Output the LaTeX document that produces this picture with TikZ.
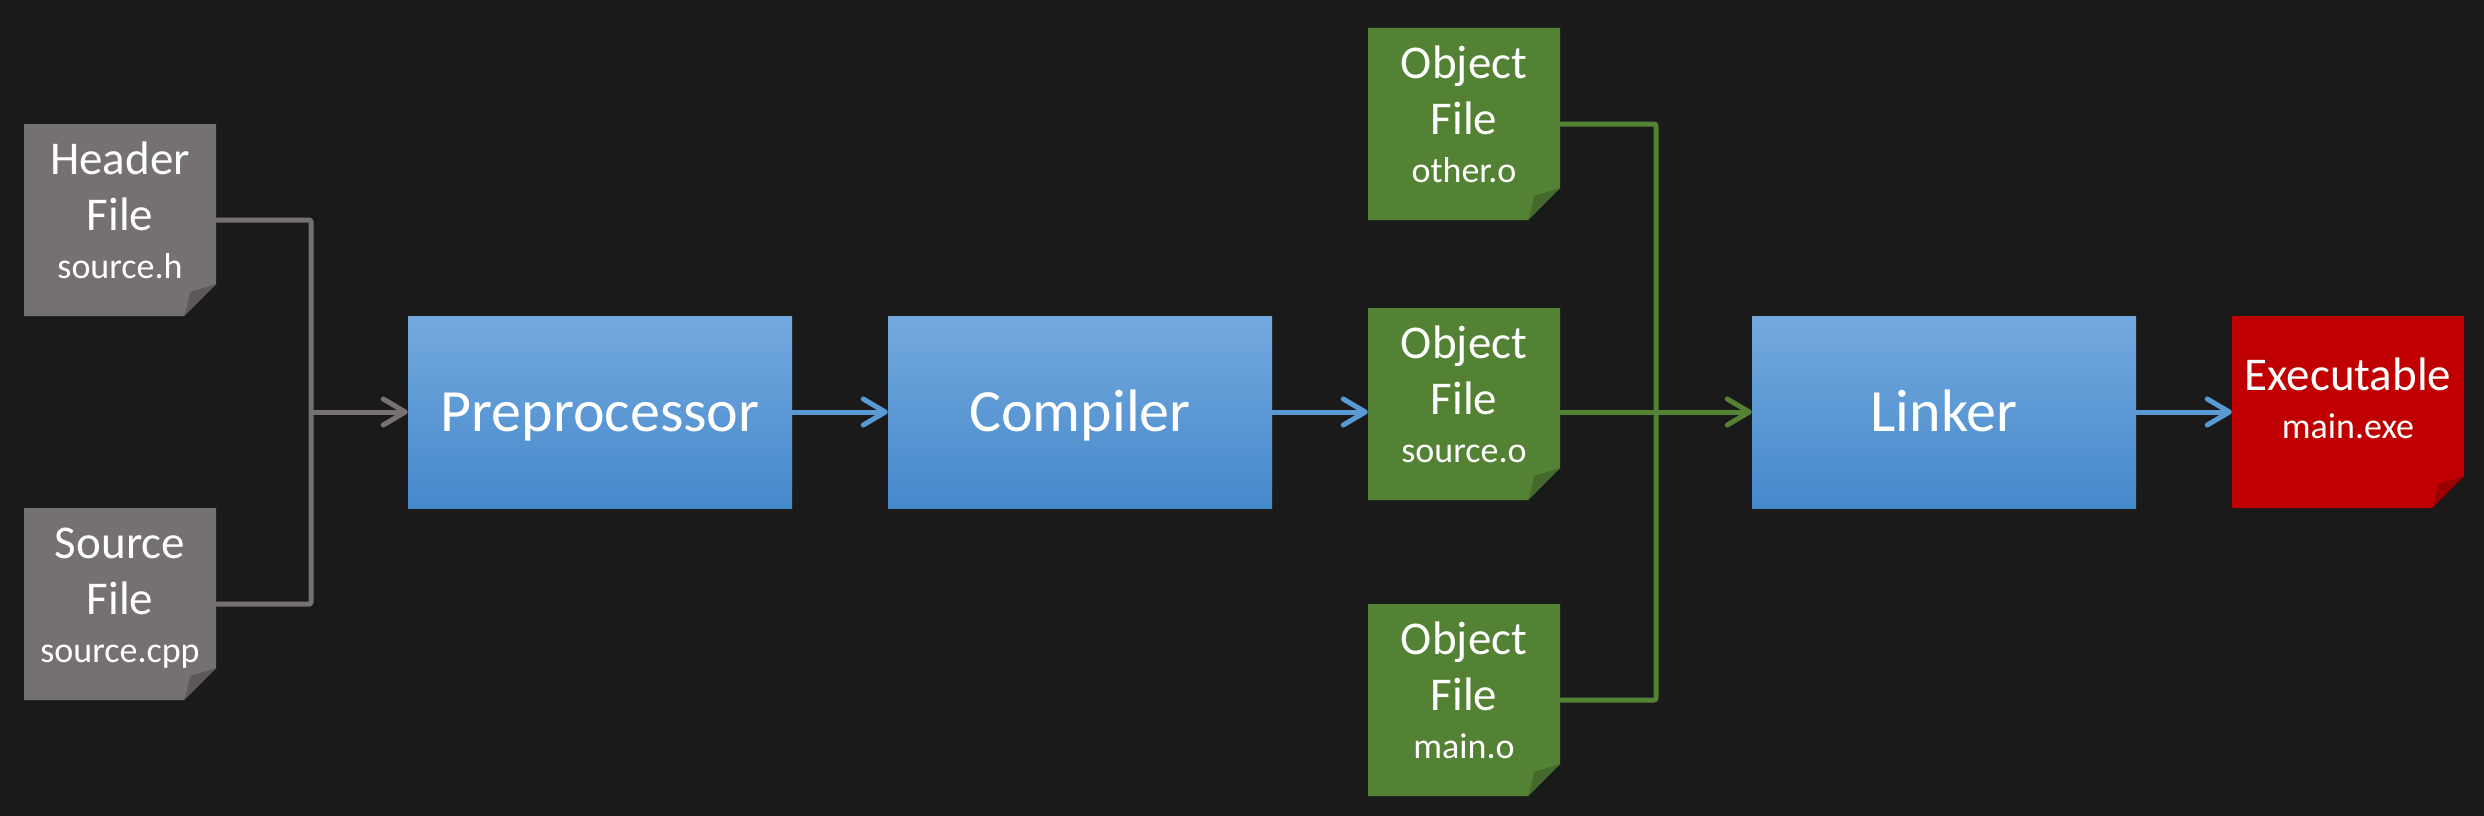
\documentclass[tikz,border=0pt]{standalone}
\usepackage{fontspec}
\setmainfont{Carlito}
\usetikzlibrary{arrows.meta}
\definecolor{bg}{HTML}{1A1A1A}
\definecolor{filegray}{HTML}{767171}
\definecolor{foldgray}{HTML}{5C5858}
\definecolor{filegreen}{HTML}{548235}
\definecolor{foldgreen}{HTML}{44692B}
\definecolor{filered}{HTML}{C00000}
\definecolor{foldred}{HTML}{9A0000}
\definecolor{bluetop}{HTML}{74A9DE}
\definecolor{bluemid}{HTML}{5B9BD5}
\definecolor{bluebot}{HTML}{4589CB}
\definecolor{blueline}{HTML}{5B9BD5}
\tikzset{
  filebox/.style 2 args={shape=rectangle, inner sep=0pt, minimum height=192pt,
    minimum width=192pt, text=white, align=center,
    font=\fontsize{47}{56}\selectfont, text height=154pt, text depth=38pt,
    path picture={
      \fill[#1] (path picture bounding box.north west) -- (path picture bounding box.north east)
        -- ([yshift=32pt]path picture bounding box.south east)
        -- ([xshift=-32pt]path picture bounding box.south east)
        -- (path picture bounding box.south west) -- cycle;
      \fill[#2] ([yshift=32pt]path picture bounding box.south east)
        .. controls ([xshift=-12pt,yshift=28pt]path picture bounding box.south east) .. ([xshift=-26pt,yshift=24pt]path picture bounding box.south east)
        .. controls ([xshift=-28pt,yshift=12pt]path picture bounding box.south east) .. ([xshift=-32pt]path picture bounding box.south east) -- cycle;
    }},
  procbox/.style={shape=rectangle, inner sep=0pt, minimum width=384pt, minimum height=192pt,
    top color=bluetop, middle color=bluemid, bottom color=bluebot, text=white,
    font=\fontsize{60}{64}\selectfont, text height=38pt, text depth=0pt},
  conn/.style={line width=5pt, rounded corners=2pt},
  tipd/.style={-{Straight Barb[length=22pt,width=26pt,round]}},
}
\newcommand{\fnm}[1]{{\fontsize{36}{40}\selectfont #1}}
\begin{document}
\begin{tikzpicture}[x=1pt,y=-1pt]
\fill[bg] (0,0) rectangle (2484,816);
\useasboundingbox (0,0) rectangle (2484,816);
% files
\node[filebox={filegray}{foldgray}] (hdr) at (120,220) {Header\\File\\[-8pt]\fnm{source.h}};
\node[filebox={filegray}{foldgray}] (src) at (120,604) {Source\\File\\[-8pt]\fnm{source.cpp}};
% processes
\node[procbox] (pre) at (600,412) {Preprocessor};
\node[procbox] (cmp) at (1080,412) {Compiler};
\node[procbox] (lnk) at (1944,412) {Linker};
% objects
\node[filebox={filegreen}{foldgreen}] (oth) at (1464,124) {Object\\File\\[-8pt]\fnm{other.o}};
\node[filebox={filegreen}{foldgreen}] (obj) at (1464,404) {Object\\File\\[-8pt]\fnm{source.o}};
\node[filebox={filegreen}{foldgreen}] (mno) at (1464,700) {Object\\File\\[-8pt]\fnm{main.o}};
% executable
\node[filebox={filered}{foldred}, minimum width=232pt, text height=122pt, text depth=70pt] (exe) at (2348,412) {Executable\\[-8pt]\fnm{main.exe}};
% junctions
\coordinate (gj) at (311,412);
\coordinate (vj) at (1656,412);
% gray connectors
\draw[conn, filegray] (hdr.east |- 0,220) -| (gj) |- (src.east |- 0,604);
\draw[conn, filegray, tipd] (gj) -- (pre.west);
% blue connectors
\draw[conn, blueline, tipd] (pre.east) -- (cmp.west);
\draw[conn, blueline, tipd] (cmp.east) -- (obj.west |- 0,412);
\draw[conn, blueline, tipd] (lnk.east) -- (exe.west);
% green connectors
\draw[conn, filegreen] (oth.east) -| (vj) |- (mno.east);
\draw[conn, filegreen, tipd] (obj.east |- 0,412) -- (lnk.west);
\end{tikzpicture}
\end{document}
